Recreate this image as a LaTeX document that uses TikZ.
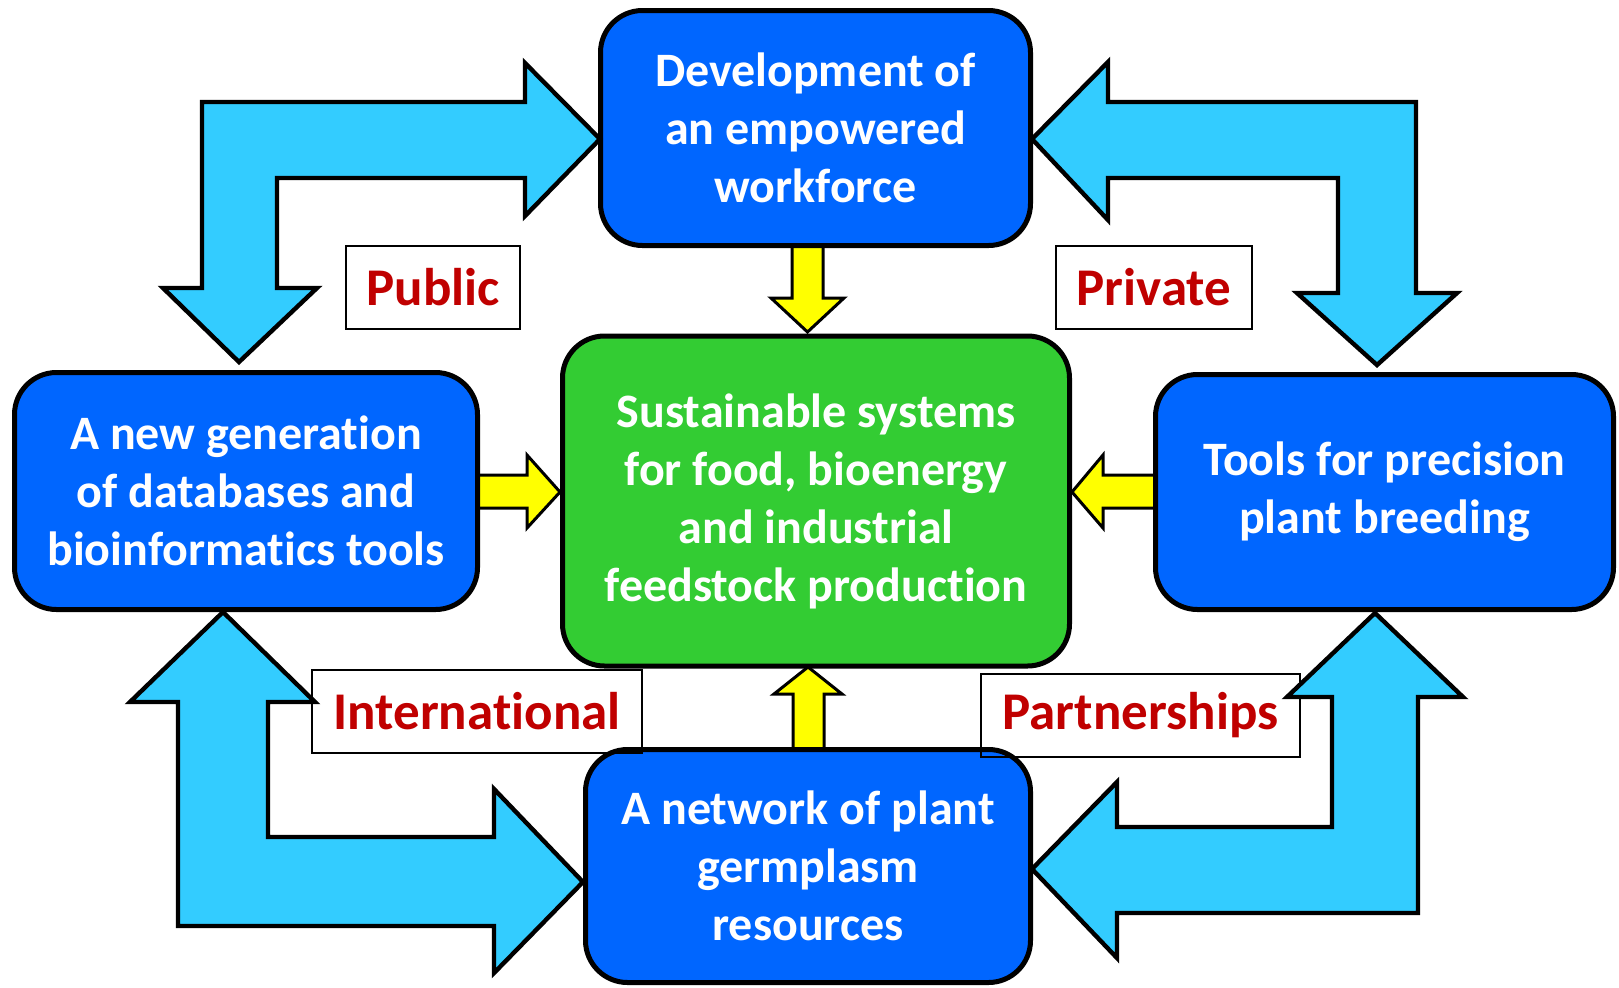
\documentclass[tikz,border=0pt]{standalone}
\usepackage{fontspec}
\setmainfont{Carlito}[Ligatures=NoCommon]
\definecolor{boxblue}{HTML}{0066FF}
\definecolor{arrowblue}{HTML}{33CCFF}
\definecolor{boxgreen}{HTML}{33CC33}
\definecolor{arrowyellow}{HTML}{FFFF00}
\definecolor{labelred}{HTML}{C00000}
\begin{document}
\begin{tikzpicture}[x=0.5pt,y=-0.5pt,
  mainbox/.style={draw=black, line width=2.5pt, rounded corners=21pt, inner sep=0pt,
    text=white, align=center, font=\bfseries\fontsize{24}{29}\selectfont},
  bluebox/.style={mainbox, fill=boxblue},
  greenbox/.style={mainbox, fill=boxgreen},
  labelbox/.style={draw=black, line width=0.75pt, inner sep=0pt, text=labelred,
    font=\bfseries\fontsize{26.5}{30}\selectfont},
  bigarrow/.style={draw=black, line width=2.2pt, fill=arrowblue, line join=miter},
  smallarrow/.style={draw=black, line width=1.5pt, fill=arrowyellow, line join=miter}]
\useasboundingbox (0,0) rectangle (1619,987);

% yellow arrows (under the boxes)
\draw[smallarrow] (792,245) -- (792,298) -- (771,298) -- (807.5,332) -- (844,298) -- (823,298) -- (823,245) -- cycle;
\draw[smallarrow] (474,475) -- (527,475) -- (527,455) -- (560,492) -- (527,528) -- (527,508) -- (474,508) -- cycle;
\draw[smallarrow] (1156,475) -- (1103,475) -- (1103,455) -- (1072,492) -- (1103,528) -- (1103,508) -- (1156,508) -- cycle;
\draw[smallarrow] (793,751) -- (793,694) -- (774,694) -- (808,667) -- (842,694) -- (824,694) -- (824,751) -- cycle;

% boxes
\node[bluebox, minimum width=215pt, minimum height=117.5pt] (work) at (815.5,128)
  {Development of\\an empowered\\workforce};
\node[bluebox, minimum width=231.5pt, minimum height=118.5pt] (data) at (246,491)
  {A new generation\\of databases and\\bioinformatics tools};
\node[bluebox, minimum width=229pt, minimum height=117.5pt] (tools) at (1384.5,492)
  {Tools for precision\\plant breeding};
\node[bluebox, minimum width=222.5pt, minimum height=116.5pt] (germ) at (808,866)
  {A network of plant\\germplasm\\resources};
\node[greenbox, minimum width=253.5pt, minimum height=165pt] (sust) at (816,501)
  {Sustainable systems\\for food, bioenergy\\and industrial\\feedstock production};

% label boxes
\node[labelbox, minimum width=87pt, minimum height=41.5pt] (public) at (433,287.5) {Public};
\node[labelbox, minimum width=98pt, minimum height=41.5pt] (private) at (1154,287.5) {Private};
\node[labelbox, minimum width=165pt, minimum height=41.5pt] (intl) at (477,711.5) {International};
\node[labelbox, minimum width=159.5pt, minimum height=41.5pt] (partner) at (1140.5,715.5) {Partnerships};

% big light-blue double arrows
\draw[bigarrow] (600,139) -- (525,216) -- (525,178) -- (277,178) -- (277,288) -- (317,288)
  -- (239,362) -- (163,288) -- (202,288) -- (202,102) -- (525,102) -- (525,63) -- cycle;
\draw[bigarrow] (1032,139) -- (1108,62) -- (1108,102) -- (1416,102) -- (1416,293) -- (1457,293)
  -- (1377,365) -- (1297,293) -- (1338,293) -- (1338,178) -- (1108,178) -- (1108,220) -- cycle;
\draw[bigarrow] (223,612) -- (315,702) -- (268,702) -- (268,837) -- (494,837) -- (494,789)
  -- (583,882) -- (494,973) -- (494,926) -- (178,926) -- (178,702) -- (130,702) -- cycle;
\draw[bigarrow] (1375,613) -- (1463,697) -- (1418,697) -- (1418,913) -- (1117,913) -- (1117,958)
  -- (1032,869) -- (1117,782) -- (1117,827) -- (1332,827) -- (1332,697) -- (1287,697) -- cycle;
\end{tikzpicture}
\end{document}
